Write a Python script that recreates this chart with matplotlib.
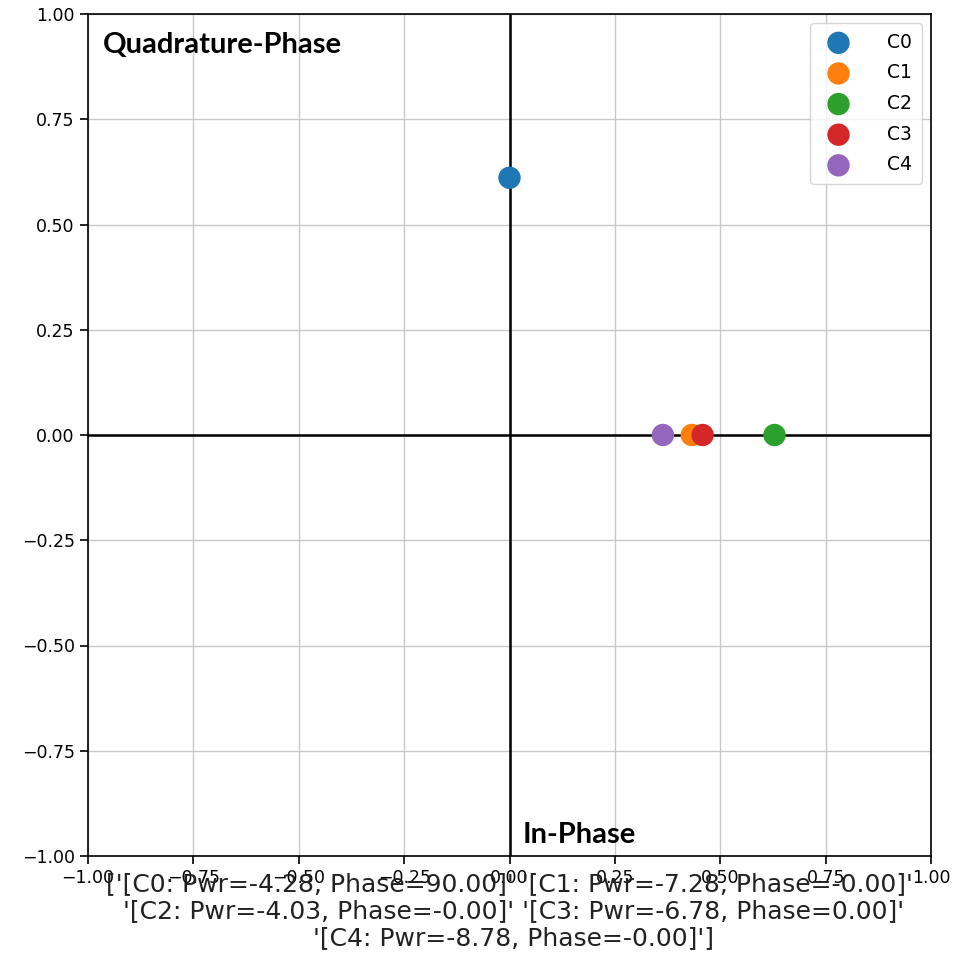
import matplotlib
matplotlib.use("Agg")
import matplotlib.pyplot as plt
import numpy as np

# Carrier readings: power in dB, phase in degrees
names = ["C0", "C1", "C2", "C3", "C4"]
pwr_db = [-4.28, -7.28, -4.03, -6.78, -8.78]
phase_deg = [90.00, -0.00, -0.00, 0.00, -0.00]
colors = ["#1f77b4", "#ff7f0e", "#2ca02c", "#d62728", "#9467bd"]

amp = 10 ** (np.array(pwr_db) / 20.0)
ph = np.deg2rad(phase_deg)
i_vals = amp * np.cos(ph)
q_vals = amp * np.sin(ph)

info = np.array([f"[{n}: Pwr={p:.2f}, Phase={a:.2f}]"
                 for n, p, a in zip(names, pwr_db, phase_deg)])

fig = plt.figure(figsize=(9.58, 9.66), dpi=100)
ax = fig.add_axes([88 / 958, 110 / 966, 843 / 958, 842 / 966])

ax.grid(True, color="#c8c8c8", lw=1.0)
ax.axhline(0, color="black", lw=1.8, zorder=2)
ax.axvline(0, color="black", lw=1.8, zorder=2)

for n, x, y, c in zip(names, i_vals, q_vals, colors):
    ax.scatter(x, y, s=260, color=c, label=n, zorder=3, edgecolors="none")

ax.set_xlim(-1, 1)
ax.set_ylim(-1, 1)
ticks = [-1.0, -0.75, -0.5, -0.25, 0.0, 0.25, 0.5, 0.75, 1.0]
ax.set_xticks(ticks)
ax.set_yticks(ticks)
ax.tick_params(labelsize=12.5, length=6, width=1.2)
for s in ax.spines.values():
    s.set_linewidth(1.2)

ax.set_xlabel(str(info), fontsize=18, labelpad=-11, color="#222222",
              linespacing=1.15)

ax.text(0.018, 0.963, "Quadrature-Phase", transform=ax.transAxes,
        fontsize=21, fontweight="bold", family="Lato", va="center")
ax.text(0.515, 0.025, "In-Phase", transform=ax.transAxes,
        fontsize=21, fontweight="bold", family="Lato", va="center")

ax.legend(loc="upper right", fontsize=13.5, scatterpoints=1,
          markerscale=1.0, handletextpad=1.6, labelspacing=0.62,
          borderpad=0.5)

fig.savefig("out.png", dpi=100)
